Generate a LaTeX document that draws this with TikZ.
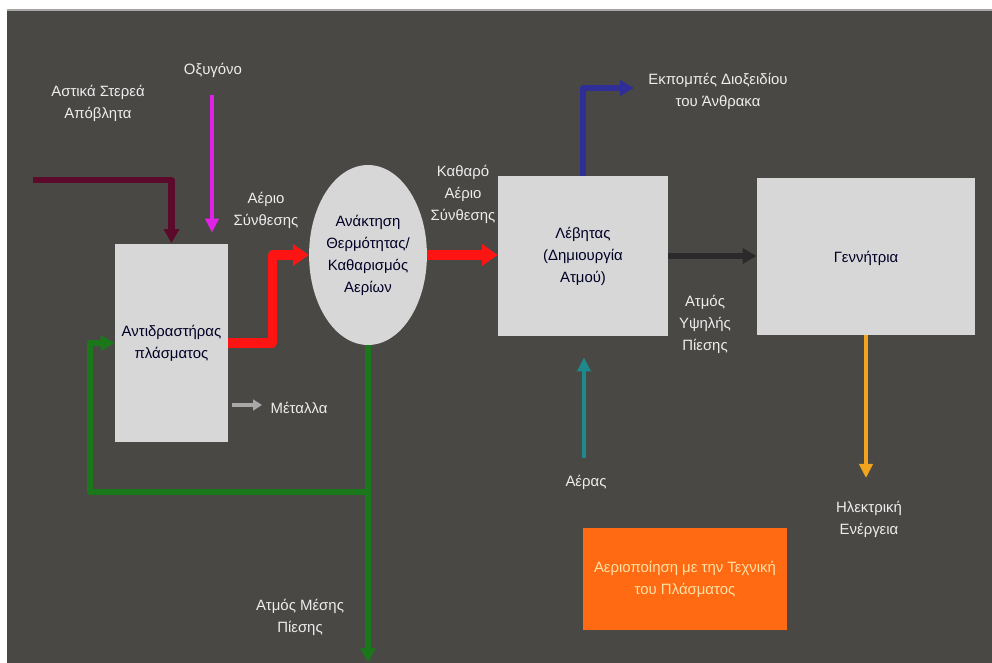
\documentclass[tikz,border=0pt]{standalone}
\usepackage{fontspec}
\setmainfont{Liberation Sans}
\usetikzlibrary{shapes.geometric,arrows.meta}
\definecolor{bggray}{HTML}{4A4845}
\definecolor{boxgray}{HTML}{D7D7D7}
\definecolor{lblwhite}{HTML}{EDEDED}
\definecolor{wastered}{HTML}{5C0A2C}
\definecolor{oxymag}{HTML}{E022E6}
\definecolor{gasred}{HTML}{FF1414}
\definecolor{co2blue}{HTML}{2E2E96}
\definecolor{steamdark}{HTML}{2A2A2A}
\definecolor{airteal}{HTML}{1E8A8C}
\definecolor{powerorange}{HTML}{F2A41E}
\definecolor{steamgreen}{HTML}{1A781A}
\definecolor{metalgray}{HTML}{A8A8A8}
\definecolor{plasmaorange}{HTML}{FF6A12}
\definecolor{plasmatext}{HTML}{FFE2A8}
\begin{document}
\begin{tikzpicture}[x=0.02cm, y=-0.02cm, line join=round, >={Triangle[length=8pt,width=8.5pt]},
	box/.style={fill=boxgray, draw=none, align=center, text=black!85!blue, inner sep=0pt, font=\fontsize{8.5}{12.5}\selectfont},
	lbl/.style={text=lblwhite, align=center, inner sep=0pt, font=\fontsize{8.5}{12.5}\selectfont},
	flow/.style={->, line width=3.6pt},
	thinflow/.style={->, line width=2.8pt, >={Triangle[length=8pt,width=7.5pt]}},
	gasflow/.style={->, gasred, line width=5.4pt, >={Triangle[length=9pt,width=12pt]}}]
	\useasboundingbox (0,0) rectangle (992,663);
	\fill[white] (0,0) rectangle (992,663);
	\fill[bggray] (7,10) rectangle (992,663);
	\draw[gray!70, line width=0.8pt] (7,10) -- (992,10);
	% blocks
	\node[box, minimum width=2.26cm, minimum height=3.98cm] (reactor) at (171.5,343) {Αντιδραστήρας\\πλάσματος};
	\node[box, ellipse, minimum width=2.28cm, minimum height=3.6cm] (clean) at (368,255) {Ανάκτηση\\Θερμότητας/\\Καθαρισμός\\Αερίων};
	\node[box, minimum width=3.4cm, minimum height=3.2cm] (boiler) at (583,256) {Λέβητας\\(Δημιουργία\\Ατμού)};
	\node[box, minimum width=4.36cm, minimum height=3.14cm] (gen) at (866,256.5) {\raisebox{-0.3cm}{Γεννήτρια}};
	\node[box, fill=plasmaorange, text=plasmatext, minimum width=4.08cm, minimum height=2.04cm] (plasma) at (685,579) {Αεριοποίηση με την Τεχνική\\του Πλάσματος};
	% free ends
	\coordinate (waste) at (33,180);
	\coordinate (oxy) at (212,95);
	\coordinate (co2) at (634,88);
	\coordinate (air) at (584,458);
	\coordinate (power) at (866,478);
	\coordinate (metal) at (262,405);
	\coordinate (mpsteam) at (368,662);
	\coordinate (split) at (368,492);
	\coordinate (loop) at (90,492);
	% flows
	\draw[flow, wastered] (waste) -| (reactor.north);
	\draw[thinflow, oxymag, shorten >=6pt] (oxy) -- (oxy |- reactor.north);
	\draw[gasflow] (reactor.east) -- ++(44,0) |- (clean.west);
	\draw[gasflow] (clean.east) -- (clean.east -| boiler.west);
	\draw[flow, co2blue] (boiler.north) |- (co2);
	\draw[flow, steamdark] (boiler.east) -- (boiler.east -| gen.west);
	\draw[thinflow, airteal, shorten >=12pt] (air) -- (air |- boiler.south);
	\draw[thinflow, powerorange] (gen.south) -- (power);
	\draw[->, metalgray, line width=2pt, >={Triangle[length=5pt,width=6pt]}] ([xshift=2pt]reactor.east |- metal) -- (metal);
	\draw[flow, steamgreen] (clean.south) -- (mpsteam);
	\draw[flow, steamgreen] (split) -- (loop) |- (reactor.west);
	% labels
	\node[lbl] (wastelbl) at (98,103) {Αστικά Στερεά\\Απόβλητα};
	\node[lbl] (oxylbl) at (213,70) {Οξυγόνο};
	\node[lbl] (syngas) at (266,210) {Αέριο\\Σύνθεσης};
	\node[lbl] (cleangas) at (463,194) {Καθαρό\\Αέριο\\Σύνθεσης};
	\node[lbl] (co2lbl) at (718,91) {Εκπομπές Διοξειδίου\\του Άνθρακα};
	\node[lbl] (hpsteam) at (705,324) {Ατμός\\Υψηλής\\Πίεσης};
	\node[lbl] (airlbl) at (586,482) {Αέρας};
	\node[lbl] (powerlbl) at (869,519) {Ηλεκτρική\\Ενέργεια};
	\node[lbl] (metallbl) at (299,408) {Μέταλλα};
	\node[lbl] (mplbl) at (300,617) {Ατμός Μέσης\\Πίεσης};
\end{tikzpicture}
\end{document}
